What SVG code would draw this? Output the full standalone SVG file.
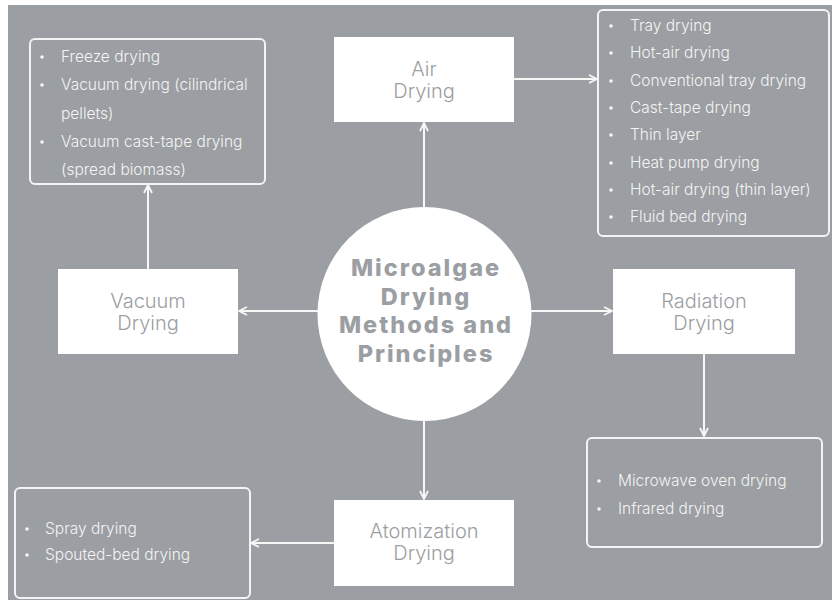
<svg xmlns="http://www.w3.org/2000/svg" width="832" height="600" viewBox="0 0 832 600">
<defs>
<style>
.bg{fill:#9b9ea2}
.node{fill:#ffffff}
.ntext{font-family:Inter,"Liberation Sans",sans-serif;font-size:20px;font-weight:300;fill:#9b9ea2;text-anchor:middle}
.ctext{font-family:Inter,"Liberation Sans",sans-serif;font-size:23.5px;font-weight:800;letter-spacing:2px;fill:#9b9ea2;text-anchor:middle}
.list{fill:none;stroke:#f4f4f4;stroke-width:2}
.ltext{font-family:Inter,"Liberation Sans",sans-serif;font-size:15.5px;font-weight:300;fill:#f4f4f4}
.bullet{fill:#f4f4f4}
.conn{fill:none;stroke:#f7f7f7;stroke-width:2}
</style>
<marker id="arr" viewBox="0 0 10 10" refX="9" refY="5" markerWidth="10" markerHeight="10" markerUnits="userSpaceOnUse" orient="auto">
<path d="M1,1 L9,5 L1,9" fill="none" stroke="#f7f7f7" stroke-width="1.8"/>
</marker>
</defs>
<rect x="0" y="0" width="832" height="600" fill="#ffffff"/>
<rect class="bg" x="8" y="5" width="824" height="595"/>

<g id="connectors">
<line class="conn" x1="424" y1="208" x2="424" y2="123" marker-end="url(#arr)"/>
<line class="conn" x1="514" y1="79" x2="597" y2="79" marker-end="url(#arr)"/>
<line class="conn" x1="318" y1="311" x2="239" y2="311" marker-end="url(#arr)"/>
<line class="conn" x1="148" y1="269" x2="148" y2="185" marker-end="url(#arr)"/>
<line class="conn" x1="531" y1="311" x2="612" y2="311" marker-end="url(#arr)"/>
<line class="conn" x1="704" y1="354" x2="704" y2="436" marker-end="url(#arr)"/>
<line class="conn" x1="424" y1="418" x2="424" y2="499" marker-end="url(#arr)"/>
<line class="conn" x1="334" y1="543" x2="251" y2="543" marker-end="url(#arr)"/>
</g>

<g id="center">
<circle class="node" cx="424.5" cy="314" r="107"/>
<text class="ctext" x="426" y="276">Microalgae</text>
<text class="ctext" x="426" y="304.7">Drying</text>
<text class="ctext" x="426" y="333.3">Methods and</text>
<text class="ctext" x="426" y="362">Principles</text>
</g>

<g id="air">
<rect class="node" x="334" y="37" width="180" height="85"/>
<text class="ntext" x="424" y="76">Air</text>
<text class="ntext" x="424" y="98">Drying</text>
</g>

<g id="vacuum">
<rect class="node" x="58" y="269" width="180" height="85"/>
<text class="ntext" x="148" y="308">Vacuum</text>
<text class="ntext" x="148" y="330">Drying</text>
</g>

<g id="radiation">
<rect class="node" x="613" y="269" width="182" height="85"/>
<text class="ntext" x="704" y="308">Radiation</text>
<text class="ntext" x="704" y="330">Drying</text>
</g>

<g id="atomization">
<rect class="node" x="334" y="500" width="180" height="86"/>
<text class="ntext" x="424" y="538">Atomization</text>
<text class="ntext" x="424" y="560">Drying</text>
</g>

<g id="vacuum-list">
<rect class="list" x="30" y="39" width="235" height="145" rx="5"/>
<circle class="bullet" cx="42" cy="57" r="1.8"/>
<text class="ltext" x="61" y="62">Freeze drying</text>
<circle class="bullet" cx="42" cy="85" r="1.8"/>
<text class="ltext" x="61" y="90">Vacuum drying (cilindrical</text>
<text class="ltext" x="61" y="119">pellets)</text>
<circle class="bullet" cx="42" cy="142" r="1.8"/>
<text class="ltext" x="61" y="147">Vacuum cast-tape drying</text>
<text class="ltext" x="61" y="175">(spread biomass)</text>
</g>

<g id="air-list">
<rect class="list" x="598" y="10" width="231" height="226" rx="5"/>
<circle class="bullet" cx="611" cy="26" r="1.8"/>
<text class="ltext" x="630" y="31">Tray drying</text>
<circle class="bullet" cx="611" cy="53" r="1.8"/>
<text class="ltext" x="630" y="58">Hot-air drying</text>
<circle class="bullet" cx="611" cy="81" r="1.8"/>
<text class="ltext" x="630" y="86">Conventional tray drying</text>
<circle class="bullet" cx="611" cy="108" r="1.8"/>
<text class="ltext" x="630" y="113">Cast-tape drying</text>
<circle class="bullet" cx="611" cy="135" r="1.8"/>
<text class="ltext" x="630" y="140">Thin layer</text>
<circle class="bullet" cx="611" cy="163" r="1.8"/>
<text class="ltext" x="630" y="168">Heat pump drying</text>
<circle class="bullet" cx="611" cy="190" r="1.8"/>
<text class="ltext" x="630" y="195">Hot-air drying (thin layer)</text>
<circle class="bullet" cx="611" cy="217" r="1.8"/>
<text class="ltext" x="630" y="222">Fluid bed drying</text>
</g>

<g id="radiation-list">
<rect class="list" x="587" y="438" width="235" height="109" rx="5"/>
<circle class="bullet" cx="599" cy="481" r="1.8"/>
<text class="ltext" x="618" y="486">Microwave oven drying</text>
<circle class="bullet" cx="599" cy="509" r="1.8"/>
<text class="ltext" x="618" y="514">Infrared drying</text>
</g>

<g id="atomization-list">
<rect class="list" x="15" y="488" width="235" height="110" rx="5"/>
<circle class="bullet" cx="27" cy="529" r="1.8"/>
<text class="ltext" x="45" y="534">Spray drying</text>
<circle class="bullet" cx="27" cy="555" r="1.8"/>
<text class="ltext" x="45" y="560">Spouted-bed drying</text>
</g>
</svg>
